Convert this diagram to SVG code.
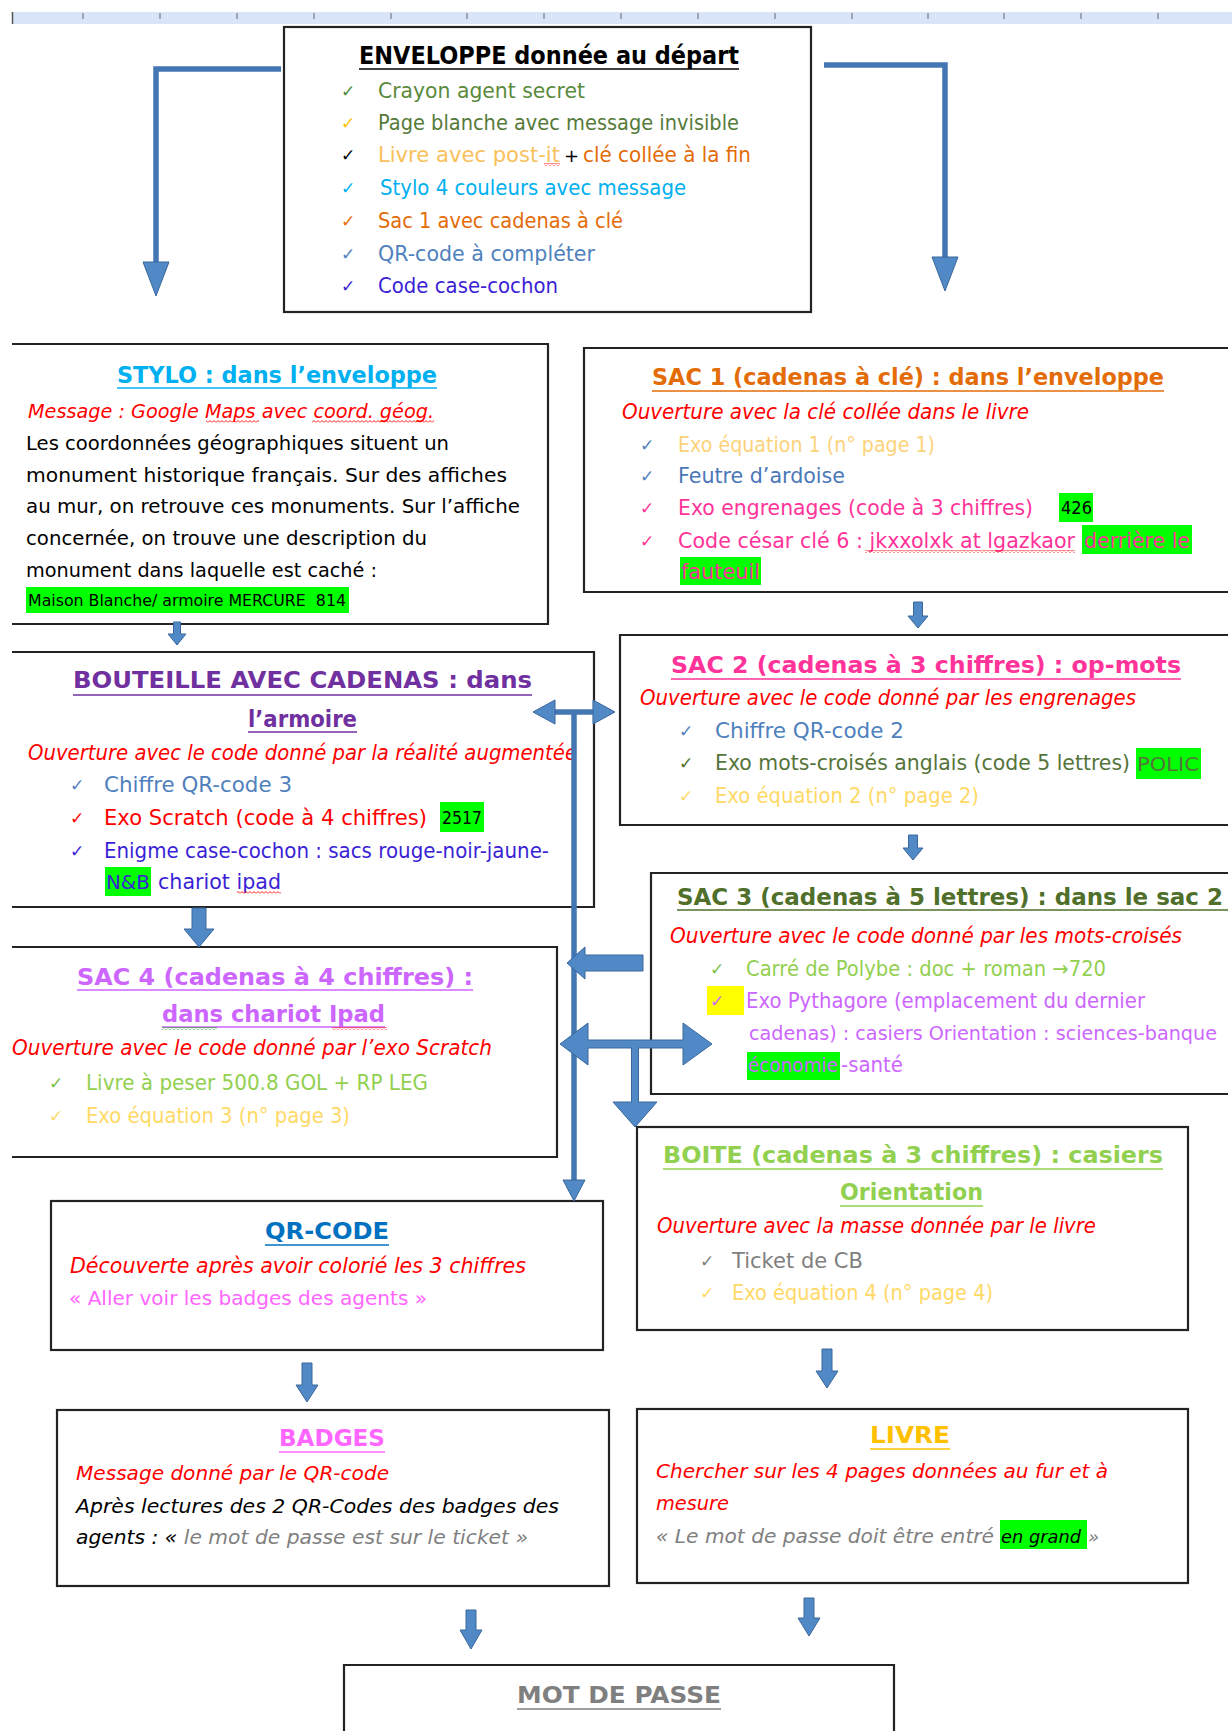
<svg xmlns="http://www.w3.org/2000/svg" width="1232" height="1731" viewBox="0 0 1232 1731">
<style>
.t{font-family:'DejaVu Sans','Liberation Sans',sans-serif}
.b{font-weight:bold}
.i{font-style:italic}
.box{fill:#fff;stroke:#232323;stroke-width:2.2}
.edge{fill:none;stroke:#232323;stroke-width:2.2}
.ul{stroke-width:1.6}
.conn{fill:none;stroke:#4576b4;stroke-width:5.5}
.hd{fill:#5089c6;stroke:#3a679c;stroke-width:1}
.ck{font-family:'DejaVu Sans',sans-serif;font-size:17px}
.hl{fill:#00ff00}
</style>
<defs>
<pattern id="sqR" width="4" height="3" patternUnits="userSpaceOnUse"><path d="M0 2.5 L2 0.5 L4 2.5" fill="none" stroke="#ff0000" stroke-width="0.9"/></pattern>
<pattern id="sqG" width="4" height="3" patternUnits="userSpaceOnUse"><path d="M0 2.5 L2 0.5 L4 2.5" fill="none" stroke="#00a000" stroke-width="0.9"/></pattern>
</defs>
<rect width="1232" height="1731" fill="#fff"/>

<g id="ruler">
<rect x="12" y="12" width="1220" height="12" fill="#d8e4f8"/>
<line x1="12.5" y1="12" x2="12.5" y2="24" stroke="#555" stroke-width="1.5"/>
<g stroke="#666" stroke-width="1">
<line x1="83" y1="13" x2="83" y2="19"/><line x1="160" y1="13" x2="160" y2="19"/><line x1="237" y1="13" x2="237" y2="19"/><line x1="314" y1="13" x2="314" y2="19"/><line x1="391" y1="13" x2="391" y2="19"/><line x1="467" y1="13" x2="467" y2="19"/><line x1="544" y1="13" x2="544" y2="19"/><line x1="621" y1="13" x2="621" y2="19"/><line x1="698" y1="13" x2="698" y2="19"/><line x1="775" y1="13" x2="775" y2="19"/><line x1="852" y1="13" x2="852" y2="19"/><line x1="928" y1="13" x2="928" y2="19"/><line x1="1004" y1="13" x2="1004" y2="19"/><line x1="1081" y1="13" x2="1081" y2="19"/><line x1="1158" y1="13" x2="1158" y2="19"/>
</g>
</g>

<g id="enveloppe">
<rect class="box" x="284" y="27" width="527" height="285"/>
<text class="t b" x="359" y="64" font-size="24" textLength="380" lengthAdjust="spacingAndGlyphs" fill="#000">ENVELOPPE donnée au départ</text>
<line class="ul" x1="359" y1="69" x2="739" y2="69" stroke="#000"/>
<text class="ck" x="341" y="97" fill="#4f8a3c">✓</text>
<text class="t" x="378" y="98" font-size="21" textLength="207" lengthAdjust="spacingAndGlyphs" fill="#5a8a3c">Crayon agent secret</text>
<text class="ck" x="341" y="129" fill="#ffc000">✓</text>
<text class="t" x="378" y="130" font-size="21" textLength="361" lengthAdjust="spacingAndGlyphs" fill="#557a3a">Page blanche avec message invisible</text>
<text class="ck" x="341" y="161" fill="#000">✓</text>
<text class="t" x="378" y="162" font-size="21" textLength="182" lengthAdjust="spacingAndGlyphs" fill="#f8c15c">Livre avec post-it</text>
<rect x="544" y="163" width="16" height="3" fill="url(#sqR)"/>
<text class="t" x="564" y="162" font-size="18" fill="#000">+</text>
<text class="t" x="583" y="162" font-size="21" textLength="168" lengthAdjust="spacingAndGlyphs" fill="#e36c09">clé collée à la fin</text>
<text class="ck" x="341" y="194" fill="#00b0f0">✓</text>
<text class="t" x="380" y="195" font-size="21" textLength="306" lengthAdjust="spacingAndGlyphs" fill="#00b0f0">Stylo 4 couleurs avec message</text>
<text class="ck" x="341" y="227" fill="#e36c09">✓</text>
<text class="t" x="378" y="228" font-size="21" textLength="245" lengthAdjust="spacingAndGlyphs" fill="#e36c09">Sac 1 avec cadenas à clé</text>
<text class="ck" x="341" y="260" fill="#4f81bd">✓</text>
<text class="t" x="378" y="261" font-size="21" textLength="217" lengthAdjust="spacingAndGlyphs" fill="#4f81bd">QR-code à compléter</text>
<text class="ck" x="341" y="292" fill="#3b1fd6">✓</text>
<text class="t" x="378" y="293" font-size="21" textLength="180" lengthAdjust="spacingAndGlyphs" fill="#3b1fd6">Code case-cochon</text>
</g>

<g id="stylo">
<path class="edge" d="M12 344 H548 V624 H12"/>
<text class="t b" x="117" y="383" font-size="23" textLength="320" lengthAdjust="spacingAndGlyphs" fill="#00b0f0">STYLO  :  dans  l’enveloppe</text>
<line class="ul" x1="117" y1="388" x2="437" y2="388" stroke="#00b0f0"/>
<text class="t i" x="28" y="418" font-size="20" textLength="406" lengthAdjust="spacingAndGlyphs" fill="#ff0000">Message : Google Maps avec coord. géog.</text>
<rect x="206" y="420" width="53" height="3" fill="url(#sqR)"/>
<rect x="312" y="420" width="122" height="3" fill="url(#sqR)"/>
<g class="t" font-size="19" fill="#000">
<text x="26" y="450" textLength="423" lengthAdjust="spacingAndGlyphs">Les coordonnées géographiques situent un</text>
<text x="26" y="482" textLength="481" lengthAdjust="spacingAndGlyphs">monument historique français. Sur des affiches</text>
<text x="26" y="513" textLength="494" lengthAdjust="spacingAndGlyphs">au mur, on retrouve ces monuments. Sur l’affiche</text>
<text x="26" y="545" textLength="401" lengthAdjust="spacingAndGlyphs">concernée, on trouve une description du</text>
<text x="26" y="577" textLength="351" lengthAdjust="spacingAndGlyphs">monument dans laquelle est caché :</text>
</g>
<rect class="hl" x="26" y="587" width="323" height="26"/>
<text class="t" x="28" y="606" font-size="16" textLength="318" lengthAdjust="spacingAndGlyphs" fill="#000" xml:space="preserve">Maison Blanche/ armoire MERCURE  814</text>
</g>

<g id="sac1">
<path class="edge" d="M1228 348 H584 V592 H1228"/>
<text class="t b" x="652" y="385" font-size="23" textLength="512" lengthAdjust="spacingAndGlyphs" fill="#e36c09">SAC 1 (cadenas à clé) : dans l’enveloppe</text>
<line class="ul" x1="652" y1="391" x2="1164" y2="391" stroke="#e36c09"/>
<text class="t i" x="622" y="419" font-size="21" textLength="407" lengthAdjust="spacingAndGlyphs" fill="#ff0000">Ouverture avec la clé collée dans le livre</text>
<text class="ck" x="640" y="451" fill="#4f81bd">✓</text>
<text class="t" x="678" y="452" font-size="21" textLength="257" lengthAdjust="spacingAndGlyphs" fill="#fcd37a">Exo équation 1 (n° page 1)</text>
<text class="ck" x="640" y="482" fill="#4f81bd">✓</text>
<text class="t" x="678" y="483" font-size="21" textLength="167" lengthAdjust="spacingAndGlyphs" fill="#4a78b8">Feutre d’ardoise</text>
<text class="ck" x="640" y="514" fill="#ff3399">✓</text>
<text class="t" x="678" y="515" font-size="21" textLength="355" lengthAdjust="spacingAndGlyphs" fill="#ff3399">Exo engrenages (code à 3 chiffres)</text>
<rect class="hl" x="1059" y="493" width="34" height="29"/>
<text class="t" x="1061" y="514" font-size="18" textLength="31" lengthAdjust="spacingAndGlyphs" fill="#000">426</text>
<text class="ck" x="640" y="547" fill="#ff3399">✓</text>
<text class="t" x="678" y="548" font-size="21" textLength="397" lengthAdjust="spacingAndGlyphs" fill="#ff3399">Code césar clé 6 : jkxxolxk at lgazkaor</text>
<rect x="865" y="550" width="210" height="3" fill="url(#sqR)"/>
<rect class="hl" x="1082" y="525" width="110" height="29"/>
<text class="t" x="1084" y="548" font-size="21" textLength="106" lengthAdjust="spacingAndGlyphs" fill="#ff3399">derrière le</text>
<rect class="hl" x="680" y="557" width="81" height="28"/>
<text class="t" x="681" y="579" font-size="21" textLength="79" lengthAdjust="spacingAndGlyphs" fill="#ff3399">fauteuil</text>
</g>

<g id="bouteille">
<path class="edge" d="M12 652 H594 V907 H12"/>
<text class="t b" x="73" y="688" font-size="23" textLength="459" lengthAdjust="spacingAndGlyphs" fill="#7030a0">BOUTEILLE  AVEC  CADENAS  :  dans</text>
<line class="ul" x1="73" y1="695" x2="532" y2="695" stroke="#7030a0"/>
<text class="t b" x="248" y="727" font-size="23" textLength="109" lengthAdjust="spacingAndGlyphs" fill="#7030a0">l’armoire</text>
<line class="ul" x1="248" y1="732" x2="357" y2="732" stroke="#7030a0"/>
<text class="t i" x="28" y="760" font-size="21" textLength="549" lengthAdjust="spacingAndGlyphs" fill="#ff0000">Ouverture avec le code donné par la réalité augmentée</text>
<text class="ck" x="70" y="791" fill="#4f81bd">✓</text>
<text class="t" x="104" y="792" font-size="21" textLength="188" lengthAdjust="spacingAndGlyphs" fill="#4f81bd">Chiffre QR-code 3</text>
<text class="ck" x="70" y="824" fill="#ff0000">✓</text>
<text class="t" x="104" y="825" font-size="21" textLength="323" lengthAdjust="spacingAndGlyphs" fill="#ff0000">Exo Scratch (code à 4 chiffres)</text>
<rect class="hl" x="440" y="802" width="44" height="30"/>
<text class="t" x="442" y="824" font-size="18" textLength="40" lengthAdjust="spacingAndGlyphs" fill="#000">2517</text>
<text class="ck" x="70" y="857" fill="#3b1fd6">✓</text>
<text class="t" x="104" y="858" font-size="21" textLength="445" lengthAdjust="spacingAndGlyphs" fill="#3b1fd6">Enigme case-cochon : sacs rouge-noir-jaune-</text>
<rect class="hl" x="105" y="867" width="46" height="29"/>
<text class="t" x="106" y="889" font-size="20" textLength="44" lengthAdjust="spacingAndGlyphs" fill="#3b1fd6">N&amp;B</text>
<text class="t" x="158" y="889" font-size="21" textLength="123" lengthAdjust="spacingAndGlyphs" fill="#3b1fd6">chariot ipad</text>
<rect x="237" y="891" width="44" height="3" fill="url(#sqR)"/>
</g>

<g id="sac2">
<path class="edge" d="M1228 635 H620 V825 H1228"/>
<text class="t b" x="671" y="673" font-size="23" textLength="510" lengthAdjust="spacingAndGlyphs" fill="#ff3399">SAC 2 (cadenas à 3 chiffres) : op-mots</text>
<line class="ul" x1="671" y1="679" x2="1181" y2="679" stroke="#ff3399"/>
<text class="t i" x="640" y="705" font-size="21" textLength="496" lengthAdjust="spacingAndGlyphs" fill="#ff0000">Ouverture avec le code donné par les engrenages</text>
<text class="ck" x="679" y="737" fill="#4f81bd">✓</text>
<text class="t" x="715" y="738" font-size="21" textLength="189" lengthAdjust="spacingAndGlyphs" fill="#4f81bd">Chiffre QR-code 2</text>
<text class="ck" x="679" y="769" fill="#4f6f2a">✓</text>
<text class="t" x="715" y="770" font-size="21" textLength="415" lengthAdjust="spacingAndGlyphs" fill="#55743a">Exo mots-croisés anglais (code 5 lettres)</text>
<rect class="hl" x="1136" y="748" width="65" height="31"/>
<text class="t" x="1137" y="771" font-size="19" textLength="62" lengthAdjust="spacingAndGlyphs" fill="#55743a">POLIC</text>
<text class="ck" x="679" y="802" fill="#ffd966">✓</text>
<text class="t" x="715" y="803" font-size="21" textLength="264" lengthAdjust="spacingAndGlyphs" fill="#ffd966">Exo équation 2 (n° page 2)</text>
</g>

<g id="sac3">
<path class="edge" d="M1228 873 H651 V1094 H1228"/>
<text class="t b" x="677" y="905" font-size="23" textLength="546" lengthAdjust="spacingAndGlyphs" fill="#4f6f2a">SAC 3 (cadenas à 5 lettres) : dans le sac 2</text>
<line class="ul" x1="677" y1="910" x2="1228" y2="910" stroke="#4f6f2a"/>
<text class="t i" x="670" y="943" font-size="21" textLength="512" lengthAdjust="spacingAndGlyphs" fill="#ff0000">Ouverture avec le code donné par les mots-croisés</text>
<text class="ck" x="710" y="975" fill="#7cc04a">✓</text>
<text class="t" x="746" y="976" font-size="21" textLength="360" lengthAdjust="spacingAndGlyphs" fill="#92d050">Carré de Polybe : doc + roman →720</text>
<rect x="707" y="986" width="37" height="29" fill="#ffff00"/>
<text class="ck" x="710" y="1007" fill="#cc66ff">✓</text>
<text class="t" x="746" y="1008" font-size="21" textLength="399" lengthAdjust="spacingAndGlyphs" fill="#cc66ff">Exo Pythagore (emplacement du dernier</text>
<text class="t" x="749" y="1040" font-size="19" textLength="468" lengthAdjust="spacingAndGlyphs" fill="#cc66ff">cadenas) : casiers Orientation : sciences-banque</text>
<rect class="hl" x="747" y="1052" width="93" height="28"/>
<text class="t" x="748" y="1072" font-size="20" textLength="90" lengthAdjust="spacingAndGlyphs" fill="#cc66ff">économie</text>
<text class="t" x="841" y="1072" font-size="21" textLength="62" lengthAdjust="spacingAndGlyphs" fill="#cc66ff">-santé</text>
</g>

<g id="sac4">
<path class="edge" d="M12 947 H557 V1157 H12"/>
<text class="t b" x="77" y="985" font-size="23" textLength="396" lengthAdjust="spacingAndGlyphs" fill="#cc66ff">SAC 4 (cadenas à 4 chiffres) :</text>
<line class="ul" x1="77" y1="990" x2="473" y2="990" stroke="#cc66ff"/>
<text class="t b" x="162" y="1022" font-size="23" textLength="223" lengthAdjust="spacingAndGlyphs" fill="#cc66ff">dans chariot Ipad</text>
<line class="ul" x1="162" y1="1027" x2="385" y2="1027" stroke="#cc66ff"/>
<rect x="162" y="1027" width="55" height="3" fill="url(#sqG)"/>
<rect x="332" y="1027" width="55" height="3" fill="url(#sqR)"/>
<text class="t i" x="12" y="1055" font-size="21" textLength="480" lengthAdjust="spacingAndGlyphs" fill="#ff0000">Ouverture avec le code donné par l’exo Scratch</text>
<text class="ck" x="49" y="1089" fill="#7cc04a">✓</text>
<text class="t" x="86" y="1090" font-size="21" textLength="342" lengthAdjust="spacingAndGlyphs" fill="#92d050">Livre à peser 500.8 GOL + RP LEG</text>
<text class="ck" x="49" y="1122" fill="#ffd966">✓</text>
<text class="t" x="86" y="1123" font-size="21" textLength="264" lengthAdjust="spacingAndGlyphs" fill="#ffd966">Exo équation 3 (n° page 3)</text>
</g>

<g id="boite">
<rect class="box" x="637" y="1127" width="551" height="203"/>
<text class="t b" x="663" y="1163" font-size="23" textLength="500" lengthAdjust="spacingAndGlyphs" fill="#92d050">BOITE (cadenas à 3 chiffres) : casiers</text>
<line class="ul" x1="663" y1="1169" x2="1163" y2="1169" stroke="#92d050"/>
<text class="t b" x="840" y="1200" font-size="23" textLength="143" lengthAdjust="spacingAndGlyphs" fill="#92d050">Orientation</text>
<line class="ul" x1="840" y1="1206" x2="983" y2="1206" stroke="#92d050"/>
<text class="t i" x="657" y="1233" font-size="21" textLength="439" lengthAdjust="spacingAndGlyphs" fill="#ff0000">Ouverture avec la masse donnée par le livre</text>
<text class="ck" x="700" y="1267" fill="#7f7f7f">✓</text>
<text class="t" x="732" y="1268" font-size="21" textLength="131" lengthAdjust="spacingAndGlyphs" fill="#7f7f7f">Ticket de CB</text>
<text class="ck" x="700" y="1299" fill="#ffd966">✓</text>
<text class="t" x="732" y="1300" font-size="21" textLength="261" lengthAdjust="spacingAndGlyphs" fill="#ffd966">Exo équation 4 (n° page 4)</text>
</g>

<g id="qrcode">
<rect class="box" x="51" y="1201" width="552" height="149"/>
<text class="t b" x="265" y="1239" font-size="23" textLength="124" lengthAdjust="spacingAndGlyphs" fill="#0070c0">QR-CODE</text>
<line class="ul" x1="265" y1="1245" x2="389" y2="1245" stroke="#0070c0"/>
<text class="t i" x="70" y="1273" font-size="21" textLength="456" lengthAdjust="spacingAndGlyphs" fill="#ff0000">Découverte après avoir colorié les 3 chiffres</text>
<text class="t" x="69" y="1305" font-size="20" textLength="358" lengthAdjust="spacingAndGlyphs" fill="#ff66ff">« Aller voir les badges des agents »</text>
</g>

<g id="badges">
<rect class="box" x="57" y="1410" width="552" height="176"/>
<text class="t b" x="279" y="1446" font-size="23" textLength="106" lengthAdjust="spacingAndGlyphs" fill="#ff66ff">BADGES</text>
<line class="ul" x1="279" y1="1452" x2="385" y2="1452" stroke="#ff66ff"/>
<text class="t i" x="76" y="1480" font-size="20" textLength="313" lengthAdjust="spacingAndGlyphs" fill="#ff0000">Message donné par le QR-code</text>
<text class="t i" x="76" y="1513" font-size="20" textLength="483" lengthAdjust="spacingAndGlyphs" fill="#000">Après lectures des 2 QR-Codes des badges des</text>
<text class="t i" x="76" y="1544" font-size="20" textLength="452" lengthAdjust="spacingAndGlyphs" fill="#000">agents : « <tspan fill="#808080">le mot de passe est sur le ticket »</tspan></text>
</g>

<g id="livre">
<rect class="box" x="637" y="1409" width="551" height="174"/>
<text class="t b" x="870" y="1443" font-size="23" textLength="80" lengthAdjust="spacingAndGlyphs" fill="#ffc000">LIVRE</text>
<line class="ul" x1="870" y1="1449" x2="950" y2="1449" stroke="#ffc000"/>
<text class="t i" x="656" y="1478" font-size="20" textLength="452" lengthAdjust="spacingAndGlyphs" fill="#ff0000">Chercher sur les 4 pages données au fur et à</text>
<text class="t i" x="656" y="1510" font-size="20" textLength="73" lengthAdjust="spacingAndGlyphs" fill="#ff0000">mesure</text>
<text class="t i" x="656" y="1543" font-size="20" textLength="338" lengthAdjust="spacingAndGlyphs" fill="#808080">« Le mot de passe doit être entré</text>
<rect class="hl" x="1000" y="1520" width="87" height="29"/>
<text class="t i" x="1001" y="1543" font-size="17.5" textLength="80" lengthAdjust="spacingAndGlyphs" fill="#000">en grand</text>
<text class="t i" x="1088" y="1543" font-size="18" fill="#808080">»</text>
</g>

<g id="motdepasse">
<path class="edge" d="M344 1731 V1665 H894 V1731"/>
<text class="t b" x="517" y="1703" font-size="23" textLength="204" lengthAdjust="spacingAndGlyphs" fill="#7f7f7f">MOT DE PASSE</text>
<line class="ul" x1="517" y1="1709" x2="721" y2="1709" stroke="#7f7f7f"/>
</g>

<g id="connectors">
<path class="conn" d="M281 69 H156 V264"/>
<polygon class="hd" points="143,262 169,262 156,296"/>
<path class="conn" d="M824 65 H945 V259"/>
<polygon class="hd" points="932,257 958,257 945,291"/>

<path class="hd" d="M173.5 622 H180.5 V634 H186 L177 645 L168 634 H173.5 Z"/>
<path class="hd" d="M192 908 H206 V929 H214 L199 947 L184 929 H192 Z"/>
<path class="hd" d="M913.5 602 H922.5 V616 H928 L918 628 L908 616 H913.5 Z"/>
<path class="hd" d="M908.5 835 H917.5 V848 H923 L913 860 L903 848 H908.5 Z"/>
<path class="hd" d="M302 1363 H312 V1385 H318 L307 1402 L296 1385 H302 Z"/>
<path class="hd" d="M822 1349 H832 V1371 H838 L827 1388 L816 1371 H822 Z"/>
<path class="hd" d="M466 1610 H476 V1630 H482 L471 1649 L460 1630 H466 Z"/>
<path class="hd" d="M804 1598 H814 V1618 H820 L809 1636 L798 1618 H804 Z"/>

<line class="conn" x1="574" y1="710" x2="574" y2="1182" stroke-width="6"/>
<polygon class="hd" points="563,1180 585,1180 574,1201"/>
<line class="conn" x1="553" y1="712" x2="595" y2="712" stroke-width="5"/>
<polygon class="hd" points="555,700 533,712 555,724"/>
<polygon class="hd" points="593,700 615,712 593,724"/>
<path class="hd" d="M643 955 V971 H585 V979 L567 963 L585 947 V955 Z"/>
<path class="hd" d="M588 1040 H683 V1023 L712 1044 L683 1065 V1048 H638.5 V1102 H657 L635 1127 L613 1102 H631.5 V1048 H588 V1065 L560 1044 L588 1023 Z"/>
</g>
</svg>
